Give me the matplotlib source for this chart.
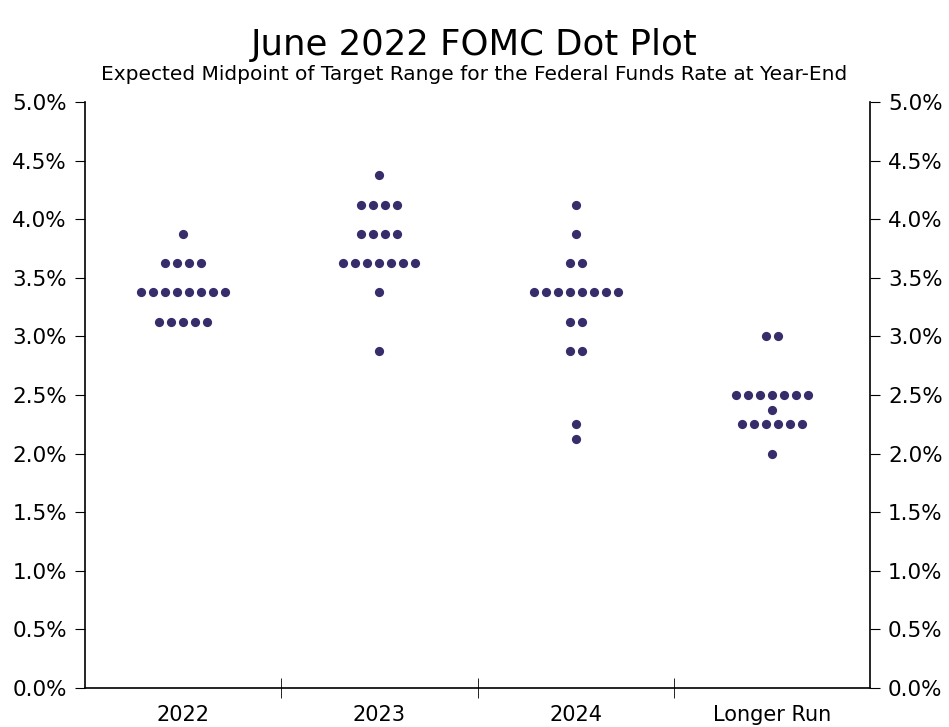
import numpy as np
import matplotlib.pyplot as plt
from matplotlib.ticker import FuncFormatter

categories = ["2022", "2023", "2024", "Longer Run"]

# rate levels (%) and how many participants placed a dot there
rates_2022 = [3.875, 3.625, 3.375, 3.125]
counts_2022 = [1, 4, 8, 5]
rates_2023 = [4.375, 4.125, 3.875, 3.625, 3.375, 2.875]
counts_2023 = [1, 4, 4, 7, 1, 1]
rates_2024 = [4.125, 3.875, 3.625, 3.375, 3.125, 2.875, 2.25, 2.125]
counts_2024 = [1, 1, 2, 8, 2, 2, 1, 1]
rates_lr = [3.0, 2.5, 2.375, 2.25, 2.0]
counts_lr = [2, 7, 1, 6, 1]

dot_color = "#382d6b"
spacing = 0.061

fig = plt.figure(figsize=(9.49, 7.27), dpi=100)
ax = fig.add_axes([85/949, 1 - 688/727, 785/949, 586/727])

all_rates = [rates_2022, rates_2023, rates_2024, rates_lr]
all_counts = [counts_2022, counts_2023, counts_2024, counts_lr]
for i, (rates, counts) in enumerate(zip(all_rates, all_counts)):
    for r, n in zip(rates, counts):
        xs = i + (np.arange(n) - (n - 1) / 2) * spacing
        ax.scatter(xs, [r] * n, s=44, color=dot_color, linewidths=0, zorder=3)

ax.set_xlim(-0.5, 3.5)
ax.set_ylim(0, 5)
ax.set_yticks(np.arange(0, 5.01, 0.5))
ax.yaxis.set_major_formatter(FuncFormatter(lambda v, p: f"{v:.1f}%"))
ax.tick_params(axis="y", left=True, right=True, labelleft=True, labelright=True,
               direction="out", length=7, labelsize=15.5, pad=6, colors="black")

ax.set_xticks(range(4))
ax.set_xticklabels(categories, fontsize=15)
ax.set_xticks([0.5, 1.5, 2.5], minor=True)
ax.tick_params(axis="x", which="major", length=0, pad=12)
ax.tick_params(axis="x", which="minor", direction="inout", length=14)

ax.spines["top"].set_visible(False)
for s in ["left", "right", "bottom"]:
    ax.spines[s].set_linewidth(1.2)

fig.text(0.5, 1 - 45/727, "June 2022 FOMC Dot Plot", ha="center", va="center", fontsize=25.6)
fig.text(0.5, 1 - 75/727, "Expected Midpoint of Target Range for the Federal Funds Rate at Year-End",
         ha="center", va="center", fontsize=14.5)

fig.savefig("out.png", dpi=100)
